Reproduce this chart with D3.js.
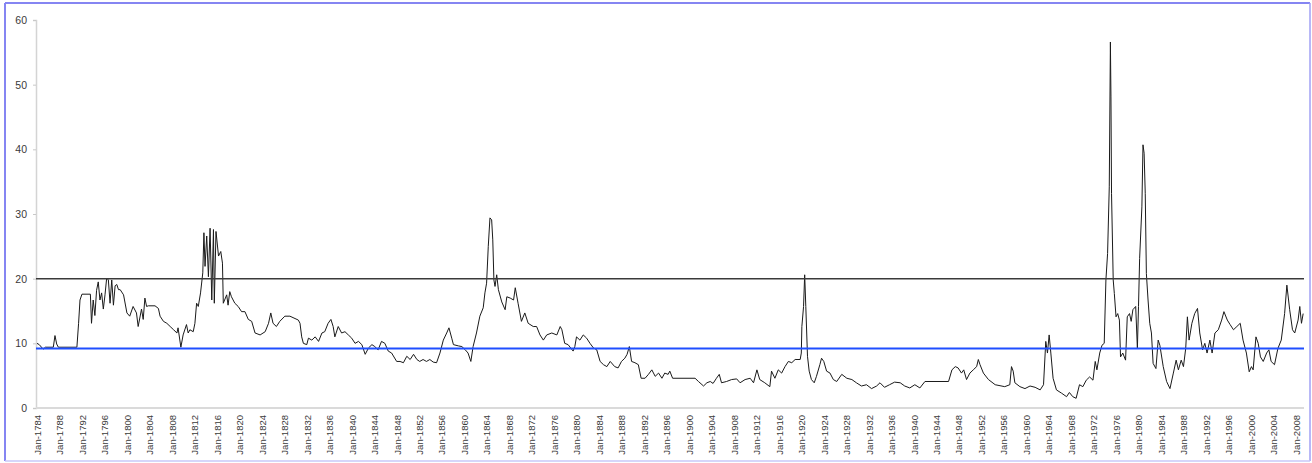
<!DOCTYPE html>
<html>
<head>
<meta charset="utf-8">
<script src="https://cdn.jsdelivr.net/npm/d3@7"></script>
<style>
  html, body { margin: 0; padding: 0; background: #fff; }
  svg { display: block; }
</style>
</head>
<body>
<svg id="chart" width="1312" height="463"></svg>
<script>
// ---- data (decimal year, value) ----
const dates = [
  1784.0,1784.4,1785.1,1785.5,1786.9,1787.2,1787.5,1787.8,1791.1,1791.4,1791.65,1792.0,1793.5,1793.7,1794.0,1794.3,1794.6,1794.9,1795.2,1795.5,
  1795.8,1796.1,1796.4,1796.7,1797.0,1797.3,1797.6,1797.9,1798.2,1798.5,1798.8,1799.4,1800.0,1800.5,1801.1,1801.7,1802.0,1802.6,1802.9,1803.2,
  1803.5,1803.8,1805.0,1805.6,1805.9,1806.5,1807.1,1807.7,1808.3,1808.9,1809.1,1809.6,1810.0,1810.6,1810.9,1811.2,1811.8,1812.1,1812.4,1812.7,
  1813.1,1813.5,1813.7,1813.9,1814.2,1814.5,1814.8,1815.1,1815.4,1815.55,1815.85,1816.3,1816.7,1817.0,1817.15,1817.75,1818.0,1818.3,1818.6,1819.2,
  1819.8,1820.4,1821.0,1821.6,1822.2,1822.8,1823.7,1824.6,1825.2,1825.6,1826.0,1826.6,1827.2,1828.1,1829.0,1830.5,1830.8,1831.1,1831.4,1832.0,
  1832.3,1832.9,1833.5,1834.1,1834.7,1835.2,1835.8,1836.3,1836.7,1837.0,1837.6,1838.2,1838.8,1839.4,1840.0,1840.6,1841.2,1841.8,1842.4,1843.0,
  1843.6,1844.1,1844.7,1845.3,1845.9,1846.5,1847.1,1848.0,1848.6,1849.2,1849.8,1850.4,1851.0,1851.6,1852.1,1852.7,1853.3,1853.9,1854.5,1855.1,
  1855.7,1856.3,1856.9,1857.3,1857.8,1858.1,1859.0,1859.6,1860.2,1860.7,1861.2,1861.6,1862.2,1862.8,1863.4,1863.7,1864.0,1864.3,1864.6,1864.9,
  1865.1,1865.3,1865.5,1865.8,1866.1,1866.7,1867.3,1867.6,1868.2,1868.8,1869.1,1869.6,1870.2,1870.8,1871.4,1872.3,1872.9,1873.5,1874.1,1874.7,
  1875.6,1876.5,1877.1,1877.4,1877.9,1878.5,1879.4,1879.7,1880.0,1880.6,1881.2,1881.8,1882.4,1883.0,1883.6,1884.2,1884.8,1885.4,1886.0,1886.8,
  1887.4,1888.0,1888.6,1889.0,1889.4,1889.8,1890.4,1891.0,1891.5,1892.2,1892.8,1893.4,1894.0,1894.6,1895.2,1895.7,1896.3,1896.6,1897.1,1901.1,
  1901.7,1902.6,1903.2,1903.8,1904.3,1904.9,1905.4,1905.8,1906.7,1907.6,1908.5,1909.1,1910.0,1910.9,1911.5,1912.1,1912.6,1913.5,1914.4,1914.7,
  1915.3,1915.9,1916.5,1917.1,1917.7,1918.3,1918.9,1919.8,1920.0,1920.1,1920.4,1920.6,1920.8,1921.1,1921.4,1921.8,1922.3,1922.7,1923.3,1923.6,
  1924.0,1924.5,1925.1,1925.7,1926.3,1927.2,1928.1,1929.0,1929.8,1930.7,1931.6,1932.5,1933.4,1934.0,1934.8,1935.7,1936.6,1937.6,1938.4,1939.3,
  1940.2,1941.1,1942.0,1946.2,1946.8,1947.4,1947.9,1948.5,1948.9,1949.4,1950.0,1950.6,1951.2,1951.5,1951.8,1952.4,1953.3,1954.5,1956.2,1957.1,
  1957.4,1957.7,1958.0,1958.9,1959.8,1960.7,1961.6,1962.5,1963.1,1963.5,1963.8,1964.1,1964.4,1964.8,1965.4,1966.3,1967.2,1967.7,1968.3,1968.9,
  1969.5,1970.1,1970.7,1971.3,1971.9,1972.3,1972.6,1973.1,1973.5,1973.9,1974.2,1974.5,1974.8,1975.0,1975.1,1975.2,1975.5,1975.7,1976.0,1976.3,
  1976.6,1976.8,1977.2,1977.7,1978.0,1978.4,1978.7,1979.0,1979.5,1979.8,1980.0,1980.2,1980.6,1980.8,1981.0,1981.2,1981.4,1981.7,1982.0,1982.3,
  1982.6,1983.1,1983.5,1983.8,1984.4,1985.0,1985.6,1986.2,1986.7,1987.1,1987.6,1988.0,1988.4,1988.7,1989.0,1989.5,1990.0,1990.5,1990.9,1991.4,
  1991.8,1992.2,1992.7,1993.1,1993.6,1994.2,1994.8,1995.2,1995.8,1996.3,1996.9,1997.5,1998.1,1998.6,1999.2,1999.7,2000.1,2000.4,2000.9,2001.3,
  2001.7,2002.2,2002.8,2003.2,2003.6,2004.2,2004.8,2005.4,2006.0,2006.4,2006.9,2007.4,2007.8,2008.4,2008.7,2009.0,2009.3
];
const values = [
  10.0,9.8,9.1,9.4,9.4,11.2,9.9,9.4,9.4,13.1,16.7,17.6,17.6,13.1,16.7,14.3,18.2,19.5,16.7,17.8,
  15.3,17.5,20.1,19.8,16.2,19.8,15.9,18.9,19.1,18.3,18.3,17.5,14.7,14.2,15.7,14.7,12.6,15.3,13.7,17.0,
  15.7,15.8,15.8,15.4,14.2,13.4,13.1,12.6,12.1,11.6,12.4,9.4,11.3,12.9,11.6,12.1,11.8,13.1,16.2,15.7,
  17.8,20.9,27.1,21.9,26.6,20.3,27.8,16.7,27.6,16.2,27.3,23.5,24.2,22.4,16.2,17.5,15.9,18.0,17.2,16.2,
  15.7,14.9,14.9,13.7,13.4,11.6,11.3,11.8,13.1,14.7,13.1,12.6,13.4,14.2,14.2,13.6,13.1,11.0,10.0,9.8,
  10.8,10.5,11.0,10.3,11.6,11.8,13.1,13.7,12.6,11.0,12.6,11.6,11.8,11.3,10.8,10.0,10.3,9.8,8.3,9.3,
  9.8,9.5,9.0,10.3,10.0,8.8,8.5,7.2,7.2,7.0,8.0,7.5,8.3,7.5,7.2,7.5,7.2,7.5,7.1,7.0,
  8.5,10.5,11.6,12.4,10.8,9.8,9.6,9.5,9.0,8.5,7.2,9.5,11.6,14.2,15.5,17.8,19.3,25.0,29.4,29.1,
  26.0,19.8,18.8,20.6,18.3,16.4,15.2,17.2,17.0,16.7,18.6,16.2,13.4,14.7,13.1,12.6,12.6,11.3,10.5,11.3,
  11.6,11.3,12.6,12.1,10.0,9.8,8.8,9.5,11.0,10.5,11.3,10.8,10.0,9.3,9.0,7.2,6.7,6.4,7.2,6.4,
  6.2,7.2,7.7,8.3,9.5,7.2,7.0,6.7,4.6,4.6,5.2,5.9,4.9,5.4,4.6,5.4,5.2,5.7,4.6,4.6,
  4.1,3.4,3.9,4.1,3.8,4.6,5.2,3.9,4.1,4.4,4.5,3.9,4.4,4.6,3.9,5.9,4.4,3.9,3.3,5.7,
  4.6,5.9,5.4,6.4,7.2,7.0,7.5,7.5,8.5,12.6,15.7,20.6,15.7,8.0,5.7,4.4,3.9,4.9,6.7,7.7,
  7.2,5.7,5.4,4.4,4.1,5.2,4.6,4.4,3.9,3.4,3.6,3.0,3.4,3.9,3.2,3.6,4.0,3.9,3.4,3.1,
  3.6,3.1,4.1,4.1,5.9,6.4,6.2,5.4,5.9,4.4,5.4,5.9,6.4,7.5,6.7,5.4,4.4,3.6,3.3,3.6,
  6.4,5.7,3.9,3.3,3.0,3.4,3.2,2.8,3.6,10.3,8.5,11.3,8.5,4.6,2.8,2.3,1.75,2.4,1.75,1.5,
  3.6,3.3,4.3,4.8,4.3,7.2,5.9,8.5,9.7,10.0,19.8,23.9,34.2,56.6,48.1,33.2,19.8,17.7,14.1,14.6,
  13.6,7.9,8.5,7.4,14.1,14.6,13.4,15.2,15.7,9.2,15.7,23.1,31.1,40.7,39.4,33.2,20.8,16.7,13.1,11.6,
  6.9,6.1,10.5,9.7,6.4,4.1,3.0,5.4,7.4,5.9,7.4,6.4,9.2,14.1,10.5,13.1,14.6,15.4,11.6,9.0,
  10.0,8.5,10.5,8.5,11.6,12.1,13.6,14.9,13.6,12.9,12.1,12.6,13.1,10.5,8.5,5.6,6.4,5.9,11.0,10.0,
  7.9,7.2,8.5,9.0,7.2,6.7,9.2,10.5,14.6,19.0,15.2,12.1,11.6,13.6,15.7,13.1,14.6
];
const refLines = [20, 9.2];
const refColors = ["#3a3a3a", "#1f4fff"];
const yTicks = [0, 10, 20, 30, 40, 50, 60];
const tickLabels = [
  "Jan-1784","Jan-1788","Jan-1792","Jan-1796","Jan-1800","Jan-1804","Jan-1808","Jan-1812","Jan-1816","Jan-1820",
  "Jan-1824","Jan-1828","Jan-1832","Jan-1836","Jan-1840","Jan-1844","Jan-1848","Jan-1852","Jan-1856","Jan-1860",
  "Jan-1864","Jan-1868","Jan-1872","Jan-1876","Jan-1880","Jan-1884","Jan-1888","Jan-1892","Jan-1896","Jan-1900",
  "Jan-1904","Jan-1908","Jan-1912","Jan-1916","Jan-1920","Jan-1924","Jan-1928","Jan-1932","Jan-1936","Jan-1940",
  "Jan-1944","Jan-1948","Jan-1952","Jan-1956","Jan-1960","Jan-1964","Jan-1968","Jan-1972","Jan-1976","Jan-1980",
  "Jan-1984","Jan-1988","Jan-1992","Jan-1996","Jan-2000","Jan-2004","Jan-2008"
];

// ---- drawing ----
const svg = d3.select("#chart");
const plotLeft = 36, plotRight = 1304, plotTop = 20, plotBottom = 408;

const x = d3.scaleLinear().domain([1784, 2010]).range([37, 1307.1]);
const y = d3.scaleLinear().domain([0, 60]).range([plotBottom, plotTop]);

// outer frame
svg.append("line").attr("x1", 5).attr("x2", 1310).attr("y1", 3).attr("y2", 3)
  .attr("stroke", "#8585f2").attr("stroke-width", 2);
svg.append("line").attr("x1", 5).attr("x2", 5).attr("y1", 3).attr("y2", 461)
  .attr("stroke", "#8585f2").attr("stroke-width", 2);
svg.append("line").attr("x1", 1310).attr("x2", 1310).attr("y1", 3).attr("y2", 461)
  .attr("stroke", "#a0a0f5").attr("stroke-width", 1.5);
svg.append("line").attr("x1", 5).attr("x2", 1310).attr("y1", 461).attr("y2", 461)
  .attr("stroke", "#c8c8f8").attr("stroke-width", 1.5);

// y axis
const yAxis = d3.axisLeft(y).tickValues(yTicks).tickSize(3).tickPadding(6);
const gy = svg.append("g").attr("transform", `translate(${plotLeft},0)`).call(yAxis);
gy.select(".domain").attr("stroke", "#d4d4d4").attr("stroke-width", 1.5);
gy.selectAll(".tick line").attr("stroke", "#c8c8c8");
gy.selectAll(".tick text").attr("fill", "#3a3a3a")
  .style("font-family", "'Liberation Sans', Arial, sans-serif").style("font-size", "10.5px");

// x axis
const xAxis = d3.axisBottom(x)
  .tickValues(tickLabels.map(s => +s.slice(4)))
  .tickFormat((d, i) => tickLabels[i])
  .tickSize(0).tickPadding(0);
const gx = svg.append("g").attr("transform", `translate(0,${plotBottom})`).call(xAxis);
gx.select(".domain").attr("d", `M${plotLeft},0H${plotRight}`)
  .attr("stroke", "#dadada").attr("stroke-width", 2);
gx.selectAll(".tick text")
  .attr("transform", "rotate(-90)")
  .attr("text-anchor", "end")
  .attr("x", -7).attr("y", 0).attr("dy", "0.35em")
  .attr("fill", "#3a3a3a")
  .style("font-family", "'Liberation Sans', Arial, sans-serif").style("font-size", "9.5px");

// series
const data = dates.map((d, i) => [d, values[i]]);
const line = d3.line().x(d => x(d[0])).y(d => y(d[1]));
svg.append("path").datum(data).attr("d", line)
  .attr("fill", "none").attr("stroke", "#1a1a1a").attr("stroke-width", 1)
  .attr("stroke-linejoin", "miter");

// reference lines
svg.selectAll(".ref").data(refLines).enter().append("line")
  .attr("class", "ref")
  .attr("x1", plotLeft).attr("x2", plotRight)
  .attr("y1", d => y(d)).attr("y2", d => y(d))
  .attr("stroke", (d, i) => refColors[i])
  .attr("stroke-width", (d, i) => i === 0 ? 1.5 : 2);
</script>
</body>
</html>
